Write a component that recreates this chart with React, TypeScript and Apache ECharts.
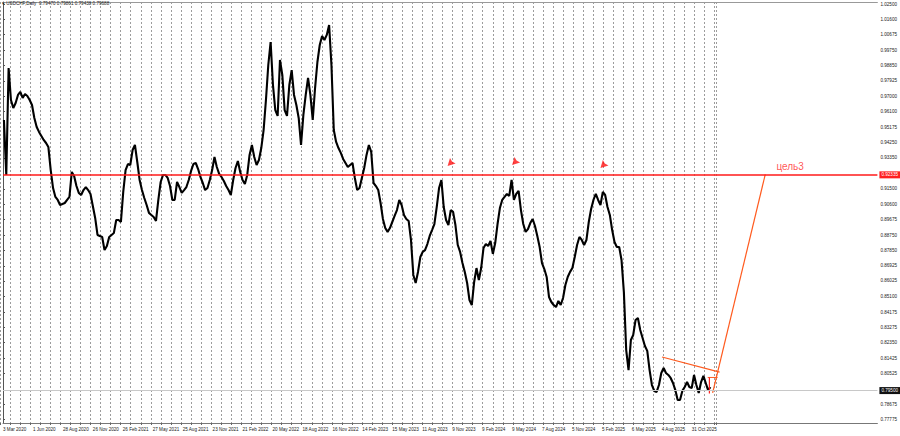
import React, { useEffect, useRef } from "react";
import * as echarts from "echarts";

// ---------- data ----------
const TITLE = "\u25BE USDCHF,Daily  0.79470 0.79861 0.79438 0.79688";

// weekly closes, first week = 3 Mar 2020
const weeklyClose = [
  0.9560, 0.9233, 0.9869, 0.9679, 0.9631, 0.9661, 0.9709, 0.9727, 0.9691, 0.9715,
  0.9703, 0.9679, 0.9649, 0.9572, 0.9518, 0.9489, 0.9465, 0.9441, 0.9423, 0.9399,
  0.9262, 0.9155, 0.9102, 0.9084, 0.9054, 0.9060, 0.9066, 0.9084, 0.9102, 0.9251,
  0.9227, 0.9167, 0.9126, 0.9114, 0.9143, 0.9161, 0.9143, 0.9120, 0.9048, 0.8977,
  0.8876, 0.8870, 0.8864, 0.8786, 0.8810, 0.8864, 0.8876, 0.8888, 0.8965, 0.8965,
  0.8953, 0.9132, 0.9262, 0.9298, 0.9292, 0.9381, 0.9411, 0.9310, 0.9203, 0.9143,
  0.9096, 0.9054, 0.9007, 0.8995, 0.8983, 0.8959, 0.9084, 0.9191, 0.9233, 0.9233,
  0.9215, 0.9167, 0.9084, 0.9084, 0.9191, 0.9161, 0.9126, 0.9143, 0.9161, 0.9203,
  0.9257, 0.9298, 0.9304, 0.9268, 0.9221, 0.9185, 0.9143, 0.9155, 0.9203, 0.9262,
  0.9340, 0.9280, 0.9239, 0.9221, 0.9197, 0.9167, 0.9143, 0.9114, 0.9203, 0.9274,
  0.9316, 0.9251, 0.9203, 0.9179, 0.9233, 0.9352, 0.9411, 0.9340, 0.9292, 0.9322,
  0.9393, 0.9500, 0.9679, 0.9887, 1.0024, 0.9768, 0.9619, 0.9584, 0.9917, 0.9828,
  0.9619, 0.9584, 0.9768, 0.9857, 0.9709, 0.9649, 0.9572, 0.9411, 0.9590, 0.9709,
  0.9810, 0.9709, 0.9560, 0.9750, 0.9905, 1.0006, 1.0060, 1.0036, 1.0066, 1.0125,
  0.9887, 0.9500, 0.9429, 0.9393, 0.9364, 0.9328, 0.9304, 0.9280, 0.9292, 0.9304,
  0.9215, 0.9143, 0.9155, 0.9215, 0.9274, 0.9352, 0.9411, 0.9370, 0.9185, 0.9167,
  0.9143, 0.9066, 0.8971, 0.8917, 0.8894, 0.8917, 0.8953, 0.8989, 0.9024, 0.9084,
  0.9054, 0.8995, 0.8971, 0.8959, 0.8846, 0.8638, 0.8590, 0.8656, 0.8745, 0.8775,
  0.8786, 0.8822, 0.8870, 0.8905, 0.8941, 0.9042, 0.9155, 0.9203, 0.9042, 0.8965,
  0.8935, 0.9024, 0.9013, 0.8935, 0.8816, 0.8775, 0.8709, 0.8656, 0.8590, 0.8489,
  0.8459, 0.8596, 0.8679, 0.8608, 0.8679, 0.8798, 0.8822, 0.8810, 0.8840, 0.8763,
  0.8828, 0.8941, 0.9036, 0.9084, 0.9102, 0.9120, 0.9108, 0.9203, 0.9084, 0.9120,
  0.9138, 0.9024, 0.8941, 0.8894, 0.8911, 0.8947, 0.8971, 0.8929, 0.8870, 0.8804,
  0.8709, 0.8673, 0.8626, 0.8507, 0.8477, 0.8459, 0.8447, 0.8483, 0.8459, 0.8501,
  0.8578, 0.8626, 0.8656, 0.8679, 0.8745, 0.8816, 0.8864, 0.8846, 0.8816, 0.8846,
  0.8953, 0.9030, 0.9084, 0.9120, 0.9084, 0.9054, 0.9132, 0.9114, 0.9042, 0.8995,
  0.8905, 0.8834, 0.8804, 0.8804, 0.8727, 0.8537, 0.8191, 0.8072, 0.8251, 0.8281,
  0.8370, 0.8382, 0.8310, 0.8263, 0.8215, 0.8186, 0.8072, 0.7983, 0.7948, 0.7942,
  0.7983, 0.8055, 0.8084, 0.8055, 0.8043, 0.8025, 0.7995, 0.7953, 0.7894, 0.7894,
  0.7948, 0.7971, 0.8001, 0.7971, 0.7965, 0.8043, 0.7983, 0.7936, 0.8001, 0.8037,
  0.7995, 0.7953, 0.7971,
];

const xLabels = [
  "3 Mar 2020", "1 Jun 2020", "28 Aug 2020", "26 Nov 2020", "26 Feb 2021",
  "27 May 2021", "25 Aug 2021", "23 Nov 2021", "21 Feb 2022", "20 May 2022",
  "18 Aug 2022", "16 Nov 2022", "14 Feb 2023", "15 May 2023", "11 Aug 2023",
  "9 Nov 2023", "9 Feb 2024", "9 May 2024", "7 Aug 2024", "5 Nov 2024",
  "5 Feb 2025", "6 May 2025", "4 Aug 2025", "31 Oct 2025",
];

const yLabels = [
  1.025, 1.016, 1.00675, 0.9975, 0.9885, 0.97925, 0.97, 0.961, 0.95175, 0.9425,
  0.9335, 0.915, 0.906, 0.89675, 0.8875, 0.8785, 0.86925, 0.86025, 0.851,
  0.84175, 0.83275, 0.8235, 0.81425, 0.80525, 0.78675, 0.77775,
];

const resistance = 0.92335;
const lastPrice = 0.7950;

// annotations: [bar index, price]
const peakArrows = [
  [958.8, 0.931],
  [1096.7, 0.9316],
  [1285.5, 0.9298],
];
const trendLine = [
  [1408.5, 0.815],
  [1531.6, 0.806],
];
const targetLine = [
  [1516.7, 0.7936],
  [1629.2, 0.9236],
];
const entryLevel = [
  [1506.2, 0.8028],
  [1527.4, 0.8028],
];
const entryDrop = [
  [1509.8, 0.8028],
  [1509.8, 0.7933],
];
const targetText = { at: [1652, 0.9285], text: "цель3" };

// ---------- scale constants ----------
const BARS_PER_WEEK = 5;
const BARS_PER_LABEL = 64;
const Y_MIN = 0.77571;
const Y_MAX = 1.02619;
const PLOT_W = 881;
const GRID_W = 716;
const PX_PER_BAR = 30.17 / BARS_PER_LABEL;

const FONT = "Liberation Sans, Arial, sans-serif";
const ORANGE = "#ff5a1e";

export default function App() {
  const ref = useRef<HTMLDivElement>(null);

  useEffect(() => {
    if (!ref.current) return;
    const chart = echarts.init(ref.current, undefined, { renderer: "svg" });
    const maxBar = PLOT_W / PX_PER_BAR;
    const gridMaxBar = GRID_W / PX_PER_BAR;
    const seriesData = weeklyClose.map((v, i) => [i * BARS_PER_WEEK + 2, v]);

    const boxLabel = (text: string, bg: string) => ({
      show: true,
      position: "end",
      distance: 2,
      formatter: text,
      backgroundColor: bg,
      color: "#fff",
      fontSize: 4.6,
      fontFamily: FONT,
      padding: [1, 2],
    });

    const segment = (data: number[][], color: string, width: number) => ({
      type: "line",
      xAxisIndex: 0,
      yAxisIndex: 0,
      data,
      showSymbol: false,
      lineStyle: { color, width },
      z: 4,
    });

    const option: any = {
      animation: false,
      backgroundColor: "#ffffff",
      title: {
        text: TITLE,
        left: 1,
        top: 0,
        padding: 1,
        textStyle: { fontSize: 4.6, fontWeight: "normal", color: "#222", fontFamily: FONT },
      },
      grid: [
        { left: 0, top: 2, width: PLOT_W, height: 421, show: false },
        { left: 0, top: 2, width: GRID_W, height: 421, show: false },
      ],
      xAxis: [
        {
          type: "value",
          gridIndex: 0,
          min: 0,
          max: maxBar,
          position: "bottom",
          axisLine: { show: true, lineStyle: { color: "#777", width: 1 } },
          axisTick: { show: false },
          splitLine: { show: false },
          axisLabel: {
            customValues: xLabels.map((_, k) => k * BARS_PER_LABEL),
            formatter: (v: number) => xLabels[Math.round(v / BARS_PER_LABEL)] ?? "",
            align: "left",
            margin: 4,
            fontSize: 4.6,
            color: "#222",
            fontFamily: FONT,
            showMinLabel: true,
            showMaxLabel: true,
          },
        },
        {
          type: "value",
          gridIndex: 1,
          min: 0,
          max: gridMaxBar,
          interval: BARS_PER_LABEL / 3,
          position: "bottom",
          axisLine: { show: false },
          axisTick: { show: true, length: 2, lineStyle: { color: "#666" } },
          axisLabel: { show: false },
          splitLine: { show: true, lineStyle: { color: "#9c9c9c", type: [2, 2], width: 1 } },
        },
        {
          type: "value",
          gridIndex: 0,
          min: 0,
          max: maxBar,
          position: "top",
          axisLine: { show: true, lineStyle: { color: "#999", width: 1 } },
          axisTick: { show: false },
          axisLabel: { show: false },
          splitLine: { show: false },
        },
      ],
      yAxis: [
        {
          type: "value",
          gridIndex: 0,
          position: "right",
          min: Y_MIN,
          max: Y_MAX,
          axisLine: { show: true, lineStyle: { color: "#555", width: 1 } },
          axisTick: { show: true, length: 2, customValues: yLabels, lineStyle: { color: "#555" } },
          splitLine: { show: false },
          axisLabel: {
            customValues: yLabels,
            formatter: (v: number) => v.toFixed(5),
            margin: 3,
            fontSize: 4.6,
            color: "#222",
            fontFamily: FONT,
          },
        },
        {
          type: "value",
          gridIndex: 1,
          min: Y_MIN,
          max: Y_MAX,
          show: false,
          splitLine: { show: false },
        },
      ],
      series: [
        {
          type: "line",
          xAxisIndex: 0,
          yAxisIndex: 0,
          data: seriesData,
          showSymbol: false,
          lineStyle: { color: "#000", width: 2.1 },
          z: 3,
          markLine: {
            silent: true,
            precision: 6,
            symbol: ["none", "none"],
            animation: false,
            data: [
              {
                yAxis: resistance,
                lineStyle: { color: "#ff1a1a", width: 1.5, type: "solid" },
                label: boxLabel(resistance.toFixed(5), "#ff2020"),
              },
              {
                yAxis: lastPrice,
                lineStyle: { color: "#c8c8c8", width: 1, type: "solid" },
                label: boxLabel(lastPrice.toFixed(5), "#111"),
              },
            ],
          },
        },
        segment(trendLine, ORANGE, 1.2),
        segment(targetLine, ORANGE, 1.2),
        segment(entryLevel, ORANGE, 1),
        segment(entryDrop, "#ff2020", 1.2),
        {
          type: "scatter",
          xAxisIndex: 0,
          yAxisIndex: 0,
          data: peakArrows,
          symbol: "path://M0,10 L3,0 L5.5,4.5 L10,7 Z",
          symbolSize: [8, 8],
          itemStyle: { color: "#ff1010" },
          z: 5,
        },
        {
          type: "scatter",
          xAxisIndex: 0,
          yAxisIndex: 0,
          data: [targetText.at],
          symbol: "circle",
          symbolSize: 1,
          itemStyle: { color: "rgba(0,0,0,0)" },
          label: {
            show: true,
            position: "right",
            distance: 0,
            formatter: targetText.text,
            color: "#ff2a2a",
            fontSize: 10,
            fontFamily: FONT,
          },
          z: 5,
        },
      ],
    };

    chart.setOption(option);
    return () => chart.dispose();
  }, []);

  return (
    <div
      ref={ref}
      style={{ position: "absolute", left: 0, top: 0, width: 900, height: 436 }}
    />
  );
}
